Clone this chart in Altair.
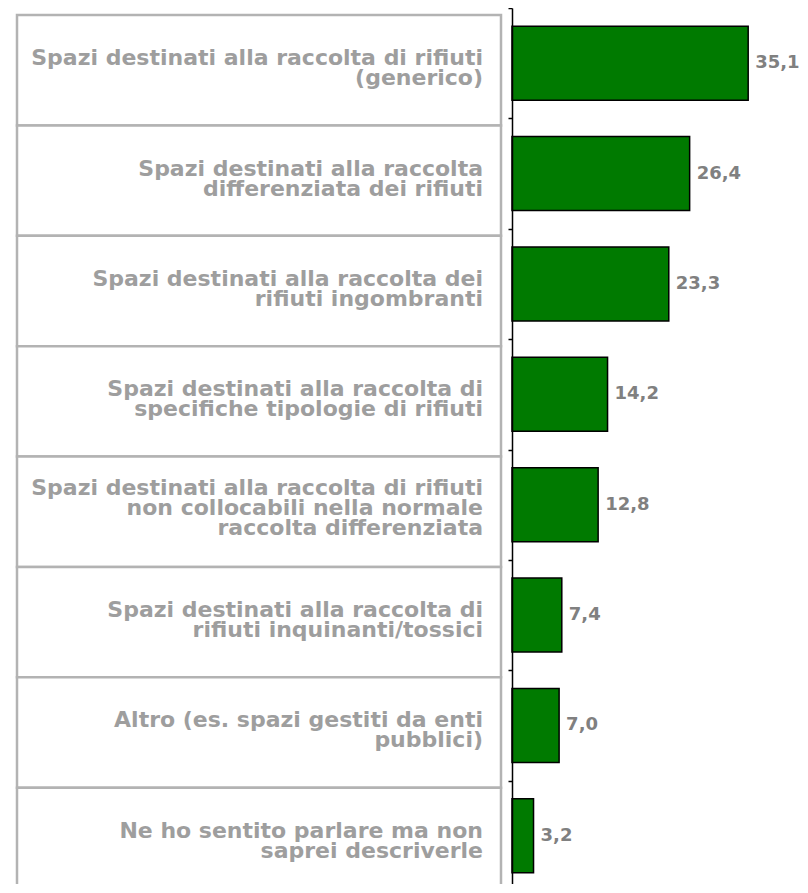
import altair as alt
import pandas as pd

categories = [
    "Spazi destinati alla raccolta di rifiuti\n(generico)",
    "Spazi destinati alla raccolta\ndifferenziata dei rifiuti",
    "Spazi destinati alla raccolta dei\nrifiuti ingombranti",
    "Spazi destinati alla raccolta di\nspecifiche tipologie di rifiuti",
    "Spazi destinati alla raccolta di rifiuti\nnon collocabili nella normale\nraccolta differenziata",
    "Spazi destinati alla raccolta di\nrifiuti inquinanti/tossici",
    "Altro (es. spazi gestiti da enti\npubblici)",
    "Ne ho sentito parlare ma non\nsaprei descriverle",
]
values = [35.1, 26.4, 23.3, 14.2, 12.8, 7.4, 7.0, 3.2]

df = pd.DataFrame({"cat": categories, "val": values})

FONT = "DejaVu Sans"
W, H = 792, 876

y_enc = alt.Y(
    "cat:N", sort=categories, title=None,
    scale=alt.Scale(paddingInner=0, paddingOuter=0, range=[0, 883]),
    axis=alt.Axis(labels=False, domainColor="black", domainWidth=1.5,
                  tickColor="black", tickSize=4, tickWidth=1.5,
                  tickBand="extent", grid=False, offset=-504),
)
x_enc = alt.X("val:Q", axis=None,
              scale=alt.Scale(domain=[0, 42.8], range=[504, 792], nice=False))

base = alt.Chart(df)

boxes = base.mark_rect(
    fill="white", stroke="#b3b3b3", strokeWidth=2.5, yOffset=7, y2Offset=7,
    clip=True
).encode(y=y_enc, x=alt.value(9), x2=alt.value(493))

nlines = "length(split(datum.cat, '\\n'))"
text_style = dict(align="right", baseline="middle", lineBreak="\n", lineHeight=20,
                  font=FONT, fontWeight="bold", fontSize=22, color="#9e9e9e")

labels2 = base.transform_filter(f"{nlines} == 2").mark_text(
    dy=-5, **text_style
).encode(y=y_enc, x=alt.value(475), text="cat:N")

labels3 = base.transform_filter(f"{nlines} == 3").mark_text(
    dy=-17, **text_style
).encode(y=y_enc, x=alt.value(475), text="cat:N")

bars = base.mark_bar(
    color="#007a00", stroke="black", strokeWidth=1.5,
    height=alt.RelativeBandSize(0.67)
).encode(y=y_enc, x=x_enc)

vals = base.transform_calculate(
    lab="replace(format(datum.val, '.1f'), '.', ',')"
).mark_text(
    align="left", baseline="middle", dx=7,
    font=FONT, fontWeight="bold", fontSize=18, color="#808080"
).encode(y=y_enc, x=x_enc, text="lab:N")

chart = alt.layer(boxes, labels2, labels3, bars, vals).properties(
    width=W, height=H, padding=0,
    autosize=alt.AutoSizeParams(type="none"),
).configure_view(stroke=None)

chart.save("out.html", embed_options={"renderer": "svg", "actions": False})
